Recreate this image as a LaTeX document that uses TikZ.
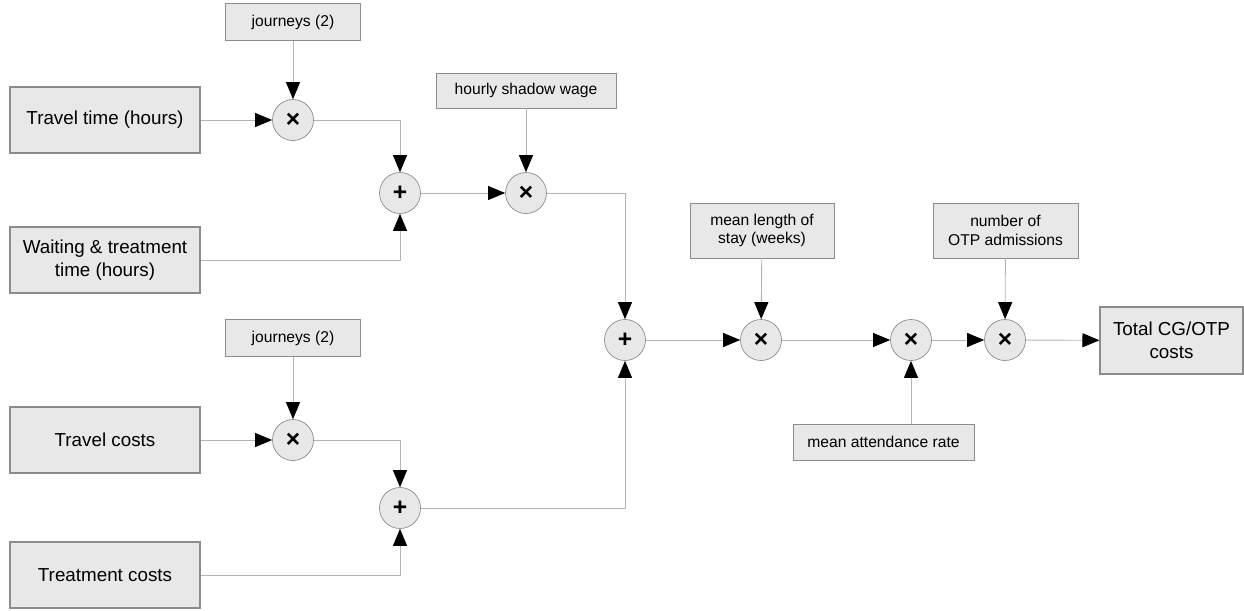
\documentclass[tikz,border=0pt]{standalone}
\usepackage{fontspec}
\setmainfont{Liberation Sans}
\usetikzlibrary{arrows.meta}

\definecolor{boxfill}{RGB}{232,232,232}
\definecolor{boxline}{RGB}{140,140,140}
\definecolor{wire}{RGB}{180,180,180}

\tikzset{
    inbox/.style={draw=boxline, fill=boxfill, line width=0.6pt, inner sep=0pt,
        align=center, font=\fontsize{10.7}{12.8}\selectfont},
    parbox/.style={draw=boxline, fill=boxfill, line width=0.5pt, inner sep=0pt,
        align=center, font=\fontsize{8.9}{10.6}\selectfont},
    op/.style={circle, draw=boxline, fill=boxfill, line width=0.4pt,
        minimum size=0.82cm, inner sep=0pt, font=\fontsize{14}{14}\selectfont\bfseries},
    flow/.style={draw=wire, line width=0.5pt,
        -{Triangle[length=0.34cm, width=0.28cm, color=black]}},
}

\begin{document}
\begin{tikzpicture}
        \useasboundingbox (0,0) rectangle (24.88,-12.2);

        % inputs
        \node[inbox, minimum width=3.8cm, minimum height=1.32cm] (traveltime) at (2.1,-2.4) {Travel time (hours)};
        \node[inbox, minimum width=3.8cm, minimum height=1.32cm] (waiting) at (2.1,-5.2) {Waiting \& treatment\\time (hours)};
        \node[inbox, minimum width=3.8cm, minimum height=1.32cm] (travelcost) at (2.1,-8.8) {Travel costs};
        \node[inbox, minimum width=3.8cm, minimum height=1.32cm] (treatcost) at (2.1,-11.5) {Treatment costs};

        % parameters
        \node[parbox, minimum width=2.7cm, minimum height=0.74cm] (journeysA) at (5.86,-0.44) {journeys (2)};
        \node[parbox, minimum width=2.7cm, minimum height=0.74cm] (journeysB) at (5.86,-6.76) {journeys (2)};
        \node[parbox, minimum width=3.6cm, minimum height=0.7cm] (wage) at (10.52,-1.81) {hourly shadow wage};
        \node[parbox, minimum width=2.88cm, minimum height=1.1cm] (stay) at (15.24,-4.61) {mean length of\\stay (weeks)};
        \node[parbox, minimum width=3.62cm, minimum height=0.72cm] (attend) at (17.67,-8.84) {mean attendance rate};
        \node[parbox, minimum width=2.9cm, minimum height=1.1cm] (admit) at (20.11,-4.61) {number of\\OTP admissions};

        % operators
        \node[op] (timesA) at (5.86,-2.4) {×};
        \node[op] (timesB) at (5.86,-8.8) {×};
        \node[op] (plusA) at (8.0,-3.86) {+};
        \node[op] (plusB) at (8.0,-10.16) {+};
        \node[op] (timesW) at (10.52,-3.86) {×};
        \node[op] (plusC) at (12.5,-6.8) {+};
        \node[op] (timesS) at (15.22,-6.8) {×};
        \node[op] (timesR) at (18.22,-6.8) {×};
        \node[op] (timesN) at (20.1,-6.8) {×};

        % output
        \node[inbox, minimum width=2.86cm, minimum height=1.34cm] (total) at (23.43,-6.81) {Total CG/OTP\\costs};

        \draw[flow] (journeysA) -- (timesA);
        \draw[flow] (traveltime) -- (timesA);
        \draw[flow] (timesA) -| (plusA);
        \draw[flow] (waiting) -| (plusA);
        \draw[flow] (plusA) -- (timesW);
        \draw[flow] (wage) -- (timesW);
        \draw[flow] (timesW) -| (plusC);

        \draw[flow] (journeysB) -- (timesB);
        \draw[flow] (travelcost) -- (timesB);
        \draw[flow] (timesB) -| (plusB);
        \draw[flow] (treatcost) -| (plusB);
        \draw[flow] (plusB) -| (plusC);

        \draw[flow] (plusC) -- (timesS);
        \draw[flow] (stay) -- (timesS);
        \draw[flow] (timesS) -- (timesR);
        \draw[flow] (attend.north -| timesR) -- (timesR);
        \draw[flow] (timesR) -- (timesN);
        \draw[flow] (admit) -- (timesN);
        \draw[flow] (timesN) -- (total);
    \end{tikzpicture}
\end{document}
